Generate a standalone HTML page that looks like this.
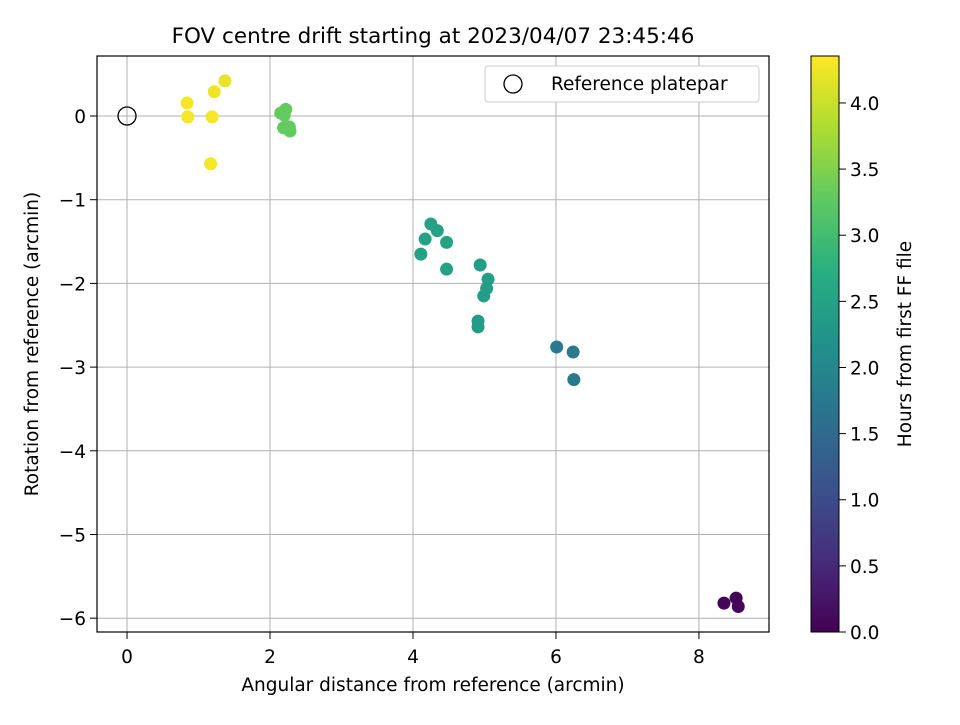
<!DOCTYPE html>
<html><head><meta charset="utf-8"><style>
body{margin:0;background:#fff}
svg text{font-family:"DejaVu Sans","Liberation Sans",sans-serif;fill:#000}
</style></head><body>
<svg id="c" width="960" height="720" viewBox="0 0 960 720">
<rect width="960" height="720" fill="#fff"/>
<text x="433" y="43" font-size="21.5" text-anchor="middle">FOV centre drift starting at 2023/04/07 23:45:46</text>
<g id="grid"></g>
<g id="pts"></g>
<rect x="97" y="56" width="672" height="576" fill="none" stroke="#000" stroke-width="1.2"/>
<g id="ticks"></g>
<text x="433" y="691" font-size="18.5" text-anchor="middle">Angular distance from reference (arcmin)</text>
<text transform="translate(38,344) rotate(-90)" font-size="18.5" text-anchor="middle">Rotation from reference (arcmin)</text>
<g>
<rect x="485" y="66" width="274" height="36" rx="3" fill="#fff" stroke="#ccc"/>
<circle cx="513" cy="84" r="9" fill="none" stroke="#000" stroke-width="1.3"/>
<text x="551" y="90" font-size="18.5">Reference platepar</text>
</g>
<defs><linearGradient id="vir" x1="0" y1="1" x2="0" y2="0">
<stop offset="0" stop-color="#440154"/><stop offset="0.125" stop-color="#472d7b"/><stop offset="0.25" stop-color="#3b528b"/><stop offset="0.375" stop-color="#2c728e"/><stop offset="0.5" stop-color="#21918c"/><stop offset="0.625" stop-color="#28ae80"/><stop offset="0.75" stop-color="#5ec962"/><stop offset="0.875" stop-color="#addc30"/><stop offset="1" stop-color="#fde725"/></linearGradient></defs>
<rect x="811" y="56" width="28" height="576" fill="url(#vir)" stroke="#000" stroke-width="1"/>
<g id="cb"></g>
<text transform="translate(911,344) rotate(-90)" font-size="18.5" text-anchor="middle">Hours from first FF file</text>
</svg>
<script>
const xs=[0.84,0.85,1.22,1.37,1.19,1.17,2.15,2.22,2.20,2.19,2.27,2.28,4.25,4.34,4.17,4.47,4.11,4.47,4.94,5.05,5.03,4.99,4.91,4.91,6.01,6.24,6.25,8.35,8.52,8.55];
const ys=[0.155,-0.01,0.29,0.42,-0.01,-0.57,0.035,0.08,0.01,-0.14,-0.13,-0.18,-1.29,-1.37,-1.47,-1.51,-1.65,-1.83,-1.78,-1.95,-2.06,-2.15,-2.45,-2.52,-2.76,-2.82,-3.15,-5.82,-5.76,-5.86];
const hrs=[4.3,4.3,4.25,4.2,4.3,4.3,3.3,3.3,3.3,3.3,3.3,3.3,2.5,2.5,2.5,2.5,2.5,2.5,2.4,2.4,2.4,2.4,2.4,2.4,1.75,1.75,1.75,0.05,0.05,0.05];
const xTicks=[0,2,4,6,8];
const yTicks=[0,-1,-2,-3,-4,-5,-6];
const cTicks=[0,0.5,1,1.5,2,2.5,3,3.5,4];
const X0=-0.42,X1=8.98,Y0=-6.165,Y1=0.717,CMAX=4.355;
const px=v=>97+(v-X0)/(X1-X0)*672;
const py=v=>632-(v-Y0)/(Y1-Y0)*576;
const cy=v=>632-v/CMAX*576;
const V=[[68,1,84],[71,45,123],[59,82,139],[44,114,142],[33,145,140],[40,174,128],[94,201,98],[173,220,48],[253,231,37]];
function vir(t){t=Math.max(0,Math.min(1,t))*8;const i=Math.min(7,Math.floor(t)),f=t-i;const a=V[i],b=V[i+1];return 'rgb('+a.map((c,k)=>Math.round(c+(b[k]-c)*f)).join(',')+')';}
const NS='http://www.w3.org/2000/svg';
function mk(tag,at,parent){const e=document.createElementNS(NS,tag);for(const k in at)e.setAttribute(k,at[k]);parent.appendChild(e);return e;}
const grid=document.getElementById('grid'),ticks=document.getElementById('ticks'),pts=document.getElementById('pts'),cb=document.getElementById('cb');
xTicks.forEach(v=>{const x=px(v);
const g=mk('line',{x1:x,x2:x,y1:56,y2:632,stroke:'#b0b0b0','stroke-width':1},grid);


const t=mk('line',{x1:x,x2:x,y1:632,y2:639,stroke:'#000'},ticks);


const l=mk('text',{x:x,y:663,'font-size':18.5,'text-anchor':'middle'},ticks);l.textContent=String(v);

});
yTicks.forEach(v=>{const y=py(v);
const g=mk('line',{x1:97,x2:769,y1:y,y2:y,stroke:'#b0b0b0','stroke-width':1},grid);


const t=mk('line',{x1:90,x2:97,y1:y,y2:y,stroke:'#000'},ticks);


const l=mk('text',{x:86,y:y+7,'font-size':18.5,'text-anchor':'end'},ticks);l.textContent=v<0?'\u2212'+(-v):String(v);

});
const ref=mk('circle',{cx:px(0),cy:py(0),r:9,fill:'none',stroke:'#000','stroke-width':1.3},pts);


xs.forEach((x,i)=>{const c=mk('circle',{cx:px(x),cy:py(ys[i]),r:6.5,fill:vir(hrs[i]/CMAX)},pts);

});
cTicks.forEach(v=>{const y=cy(v);
const t=mk('line',{x1:839,x2:846,y1:y,y2:y,stroke:'#000'},cb);


const l=mk('text',{x:850,y:y+7,'font-size':18.5},cb);l.textContent=v.toFixed(1);

});
</script>
</body></html>
